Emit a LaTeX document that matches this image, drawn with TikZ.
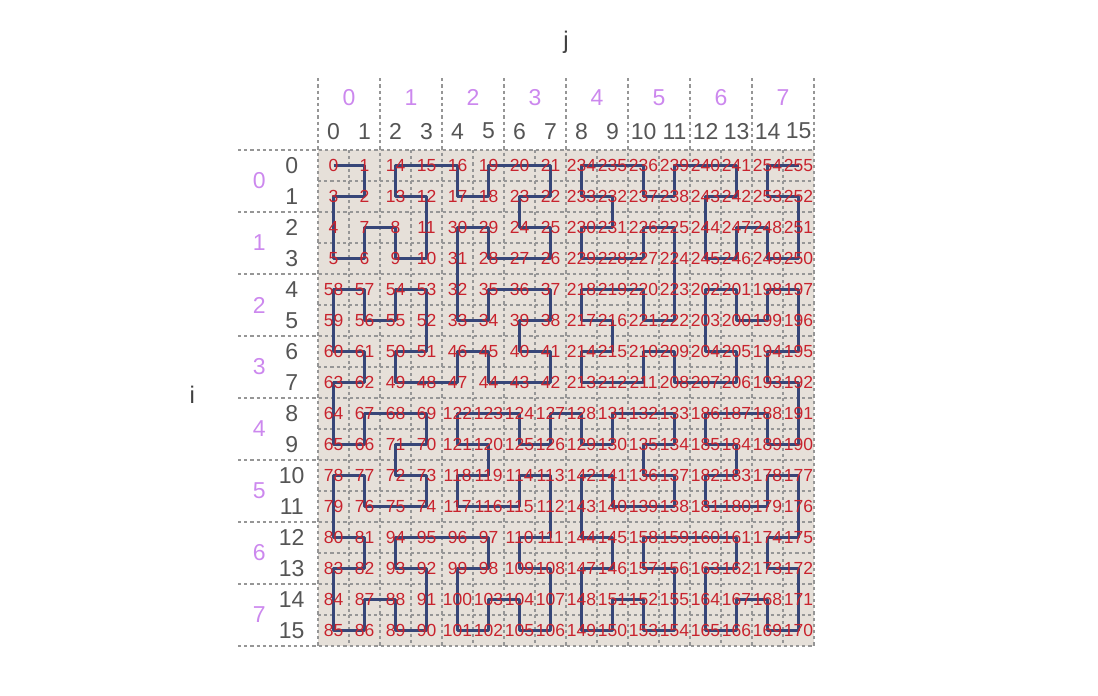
\documentclass[tikz,border=0pt]{standalone}
\usepackage{fontspec}
\setmainfont{Liberation Sans}
\usetikzlibrary{backgrounds}
\definecolor{hilRed}{RGB}{200,35,45}
\definecolor{curveNavy}{RGB}{55,70,120}
\definecolor{cellFill}{RGB}{230,224,217}
\definecolor{dotGrey}{RGB}{150,150,150}
\definecolor{labGrey}{RGB}{85,85,85}
\definecolor{labPurple}{RGB}{204,136,238}
\tikzset{
  cellnum/.style={
    inner sep=0pt, text=hilRed, font=\fontsize{17.5}{17.5}\selectfont},
  idxlabel/.style={
    inner sep=0pt, text=labGrey, font=\fontsize{23}{23}\selectfont},
  grouplabel/.style={
    idxlabel, text=labPurple},
  axislabel/.style={
    idxlabel, text=black!75, font=\fontsize{24}{24}\selectfont},
  gridline/.style={draw=dotGrey, line width=1.7pt, dash pattern=on 3.2pt off 3pt},
  curveline/.style={draw=curveNavy, line width=2.4pt, line join=round}
}

\begin{document}
\begin{tikzpicture}[x=31pt, y=31pt]

    \useasboundingbox (-10.26,4.84) rectangle (25.16,-17.61);

    % ---- axis titles -------------------------------------------
    \node[axislabel] (jtitle) at (8,3.48)     {j};
    \node[axislabel] (ititle) at (-4.06,-7.9) {i};

    % ---- column and row indices --------------------------------
    \foreach \k in {0,...,15} {
      \node[idxlabel] (col\k) at (\k+0.5,0.61)  {\k};
      \node[idxlabel] (row\k) at (-0.85,-\k-0.5) {\k};
    }
    \foreach \g in {0,...,7} {
      \node[grouplabel] (cgrp\g) at (2*\g+1,1.68) {\g};
      \node[grouplabel] (rgrp\g) at (-1.9,-2*\g-1) {\g};
    }

    % ---- curve index of every cell -----------------------------
    \foreach \cells [count=\i from 0] in {
      {0,1,14,15,16,19,20,21,234,235,236,239,240,241,254,255},
      {3,2,13,12,17,18,23,22,233,232,237,238,243,242,253,252},
      {4,7,8,11,30,29,24,25,230,231,226,225,244,247,248,251},
      {5,6,9,10,31,28,27,26,229,228,227,224,245,246,249,250},
      {58,57,54,53,32,35,36,37,218,219,220,223,202,201,198,197},
      {59,56,55,52,33,34,39,38,217,216,221,222,203,200,199,196},
      {60,61,50,51,46,45,40,41,214,215,210,209,204,205,194,195},
      {63,62,49,48,47,44,43,42,213,212,211,208,207,206,193,192},
      {64,67,68,69,122,123,124,127,128,131,132,133,186,187,188,191},
      {65,66,71,70,121,120,125,126,129,130,135,134,185,184,189,190},
      {78,77,72,73,118,119,114,113,142,141,136,137,182,183,178,177},
      {79,76,75,74,117,116,115,112,143,140,139,138,181,180,179,176},
      {80,81,94,95,96,97,110,111,144,145,158,159,160,161,174,175},
      {83,82,93,92,99,98,109,108,147,146,157,156,163,162,173,172},
      {84,87,88,91,100,103,104,107,148,151,152,155,164,167,168,171},
      {85,86,89,90,101,102,105,106,149,150,153,154,165,166,169,170}} {
      \foreach \val [count=\j from 0] in \cells {
        \node[cellnum] (h\val) at (\j+0.5,-\i-0.5) {\val};
      }
    }

    % ---- board, dotted grid and curve behind the numbers -------
    \begin{scope}[on background layer]
      \fill[cellFill] (0,0) rectangle (16,-16);
      \foreach \k in {1,3,...,15} {
        \draw[gridline] (\k,0) -- (\k,-16);
        \draw[gridline] (0,-\k) -- (16,-\k);
      }
      \foreach \k in {0,2,...,16} {
        \draw[gridline] (\k,2.32) -- (\k,-16);
        \draw[gridline] (-2.58,-\k) -- (16,-\k);
      }
      \draw[curveline] (h0.center) \foreach \d in {1,...,255} { -- (h\d.center) };
    \end{scope}

\end{tikzpicture}
\end{document}
